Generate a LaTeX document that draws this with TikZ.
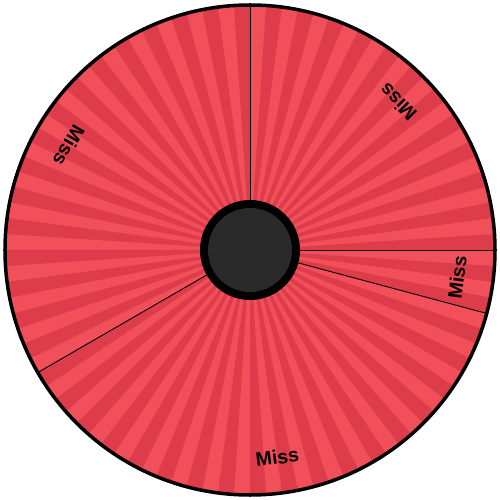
\documentclass[tikz,border=0pt]{standalone}
\usepackage{fontspec}
\setmainfont{Liberation Sans}
\definecolor{stripelight}{RGB}{241,80,91}
\definecolor{stripedark}{RGB}{221,61,74}
\definecolor{hubgray}{RGB}{42,42,42}
\tikzset{
  divider/.style={draw=black, line width=0.9pt},
  rimline/.style={draw=black, line width=3.5pt},
  slicelabel/.style={font=\bfseries\fontsize{19.5}{20}\selectfont, text=black, inner sep=0pt},
}
\begin{document}
\begin{tikzpicture}[x=1pt,y=1pt]
  \useasboundingbox (-250,-250) rectangle (250,250);
  \coordinate (o) at (0,0);
  % striped face
  \fill[stripelight] (o) circle (245);
  \foreach \i in {0,...,47} {
    \pgfmathsetmacro{\a}{7.5*\i}
    \fill[stripedark] (o) -- (\a:245) arc[start angle=\a, end angle=\a+3.75, radius=245] -- cycle;
  }
  % sector dividers
  \coordinate (d1) at (90:245);
  \coordinate (d2) at (0:245);
  \coordinate (d3) at (-15:245);
  \coordinate (d4) at (210:245);
  \draw[divider] (o) -- (d1);
  \draw[divider] (o) -- (d2);
  \draw[divider] (o) -- (d3);
  \draw[divider] (o) -- (d4);
  % rim
  \draw[rimline] (o) circle (245);
  % labels
  \node[slicelabel, rotate=135] (l1) at (45:209) {Miss};
  \node[slicelabel, rotate=82.5] (l2) at (-7.5:209) {Miss};
  \node[slicelabel, rotate=7.5] (l3) at (-82.5:209) {Miss};
  \node[slicelabel, rotate=240] (l4) at (150:209) {Miss};
  % hub
  \node[circle, fill=black, minimum size=100pt, inner sep=0pt] (hubring) at (o) {};
  \node[circle, fill=hubgray, minimum size=84pt, inner sep=0pt] (hub) at (o) {};
\end{tikzpicture}
\end{document}
